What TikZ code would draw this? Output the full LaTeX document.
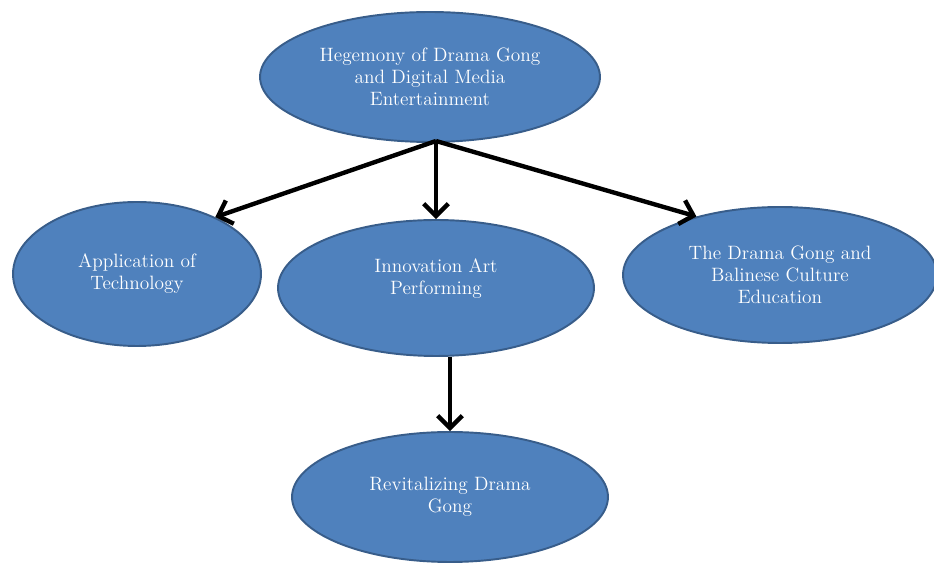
\documentclass[tikz,border=0pt]{standalone}
\usepackage{tikz}
\usetikzlibrary{shapes.geometric, arrows.meta, positioning}
\definecolor{bubblefill}{RGB}{79,129,189}
\definecolor{bubbleline}{RGB}{56,93,138}
\tikzset{
x=0.02cm, y=-0.02cm, % one unit is one pixel of the sketch
bubble/.style={ellipse, draw=bubbleline, line width=1.1pt, fill=bubblefill, text=white, inner sep=0pt, align=center, font=\fontsize{11}{12.6}\selectfont}, % sets the properties for each bubble
link/.style={-{Straight Barb[length=7pt, width=14pt]}, line width=2.5pt}, % thick black arrows
}

\begin{document}
\begin{tikzpicture}
            \useasboundingbox (0,0) rectangle (934,563);

            \node[bubble, minimum width=6.8cm, minimum height=2.6cm] (top) at (430,77) {Hegemony of Drama Gong\\and Digital Media\\Entertainment};
            \node[bubble, minimum width=4.96cm, minimum height=2.88cm] (app) at (137,274) {Application of\\Technology};
            \node[bubble, minimum width=6.32cm, minimum height=2.72cm] (inn) at (436,288) {Innovation Art\\Performing\\~};
            \node[bubble, minimum width=6.28cm, minimum height=2.72cm] (edu) at (780,275) {The Drama Gong and\\Balinese Culture\\Education};
            \node[bubble, minimum width=6.32cm, minimum height=2.6cm] (rev) at (450,497) {Revitalizing Drama\\Gong};

            \coordinate (hub) at (436,141);

            \draw[link] (hub) -- (app.36);
            \draw[link] (hub) -- (inn.north);
            \draw[link] (hub) -- (edu.145);
            \draw[link] (rev.north |- inn.south) -- (rev.north);
\end{tikzpicture}
\end{document}
